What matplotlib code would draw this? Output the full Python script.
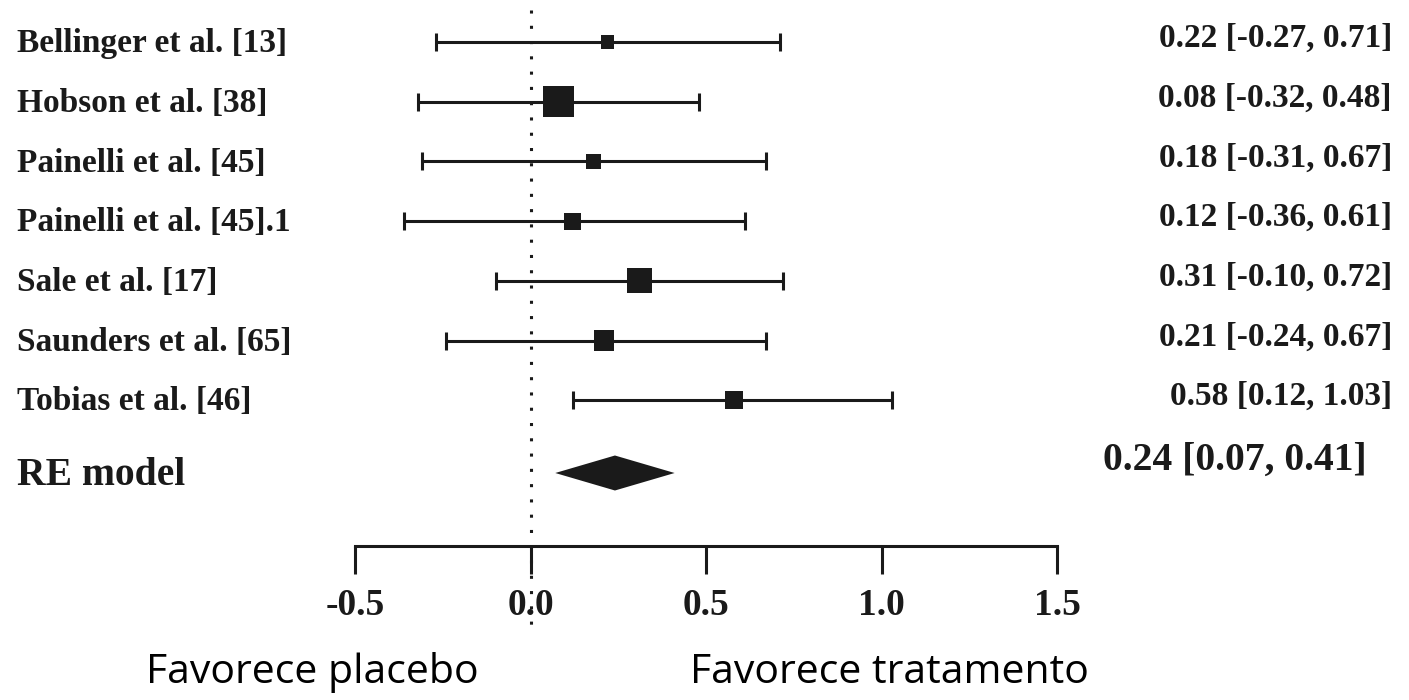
import numpy as np
from matplotlib import pyplot as plt

# Data
estudos = ['Bellinger et al. [13]', 'Hobson et al. [38]', 'Painelli et al. [45]',
           'Painelli et al. [45].1', 'Sale et al. [17]', 'Saunders et al. [65]',
           'Tobias et al. [46]']
efeito = [0.22, 0.08, 0.18, 0.12, 0.31, 0.21, 0.58]
inferior = [-0.27, -0.32, -0.31, -0.36, -0.10, -0.24, 0.12]
superior = [0.71, 0.48, 0.67, 0.61, 0.72, 0.67, 1.03]
peso = [9.4, 22.3, 10.8, 12.2, 18.0, 14.4, 12.9]   # relative weights

re_label = 'RE model'
re_efeito = 0.24
re_inferior = 0.07
re_superior = 0.41

ticks = [-0.5, 0.0, 0.5, 1.0, 1.5]
lado_esq = 'Favorece placebo'
lado_dir = 'Favorece tratamento'

# Figure: one axes over the whole canvas, x in effect units, y in rows
W, H = 1409, 700
fig = plt.figure(figsize=(W / 100, H / 100), dpi=100)
ax = fig.add_axes([0, 0, 1, 1])
ax.axis('off')

x0, sx = 530.7, 351.0     # px of zero, px per unit
y0, sy = 42.0, 59.7       # px of first row, px per row
ax.set_xlim(-x0 / sx, (W - x0) / sx)
ax.set_ylim((H - y0) / sy, -y0 / sy)

def px_x(p):
    return (p - x0) / sx

def px_y(p):
    return (p - y0) / sy

cor = '#1a1a1a'
serif = 'Liberation Serif'
rows = np.arange(len(estudos))
err = [np.array(efeito) - np.array(inferior), np.array(superior) - np.array(efeito)]

# Confidence intervals
ax.errorbar(efeito, rows, xerr=err, fmt='none', ecolor=cor, elinewidth=2.2,
            capsize=6.5, capthick=2.2, zorder=2)

# Boxes proportional to weight
lado_px = np.array(peso) / max(peso) * 31
ax.scatter(efeito, rows, s=(lado_px * 0.72) ** 2, marker='s', color=cor,
           linewidths=0, zorder=3)

# Summary diamond
y_re = px_y(473)
h = 17.5 / sy
ax.fill([re_inferior, re_efeito, re_superior, re_efeito],
        [y_re, y_re - h, y_re, y_re + h], color=cor, lw=0, zorder=3)

# Study labels and estimates
for i, nome in enumerate(estudos):
    ax.text(px_x(17), i + 0.03, nome, ha='left', va='center', fontsize=24,
            fontweight='bold', family=serif, color=cor)
    txt = f'{efeito[i]:.2f} [{inferior[i]:.2f}, {superior[i]:.2f}]'
    ax.text(px_x(1392), i - 0.06, txt, ha='right', va='center', fontsize=24,
            fontweight='bold', family=serif, color=cor)

ax.text(px_x(17), px_y(475), re_label, ha='left', va='center', fontsize=28.5,
        fontweight='bold', family=serif, color=cor)
ax.text(px_x(1367), px_y(460),
        f'{re_efeito:.2f} [{re_inferior:.2f}, {re_superior:.2f}]',
        ha='right', va='center', fontsize=28.5, fontweight='bold', family=serif, color=cor)

# Bottom axis drawn by hand
y_ax = px_y(546)
y_tk = px_y(574)
ax.plot([ticks[0], ticks[-1]], [y_ax, y_ax], color=cor, lw=2.2, solid_capstyle='projecting')
ax.vlines(ticks, y_ax, y_tk, color=cor, lw=2.2)
for t in ticks:
    ax.text(t, px_y(605), f'{t:.1f}', ha='center', va='center', fontsize=27,
            fontweight='bold', family=serif, color=cor)

# Reference line at zero
ax.vlines(0, px_y(10), px_y(627), color=cor, lw=2.2, linestyles=(0, (1, 4)), zorder=4)

# Direction labels
ax.text(px_x(146), px_y(683), lado_esq, ha='left', va='baseline', fontsize=29.5,
        family='Open Sans', color='black')
ax.text(px_x(690), px_y(683), lado_dir, ha='left', va='baseline', fontsize=29.5,
        family='Open Sans', color='black')

fig.savefig('out.png', dpi=100)
